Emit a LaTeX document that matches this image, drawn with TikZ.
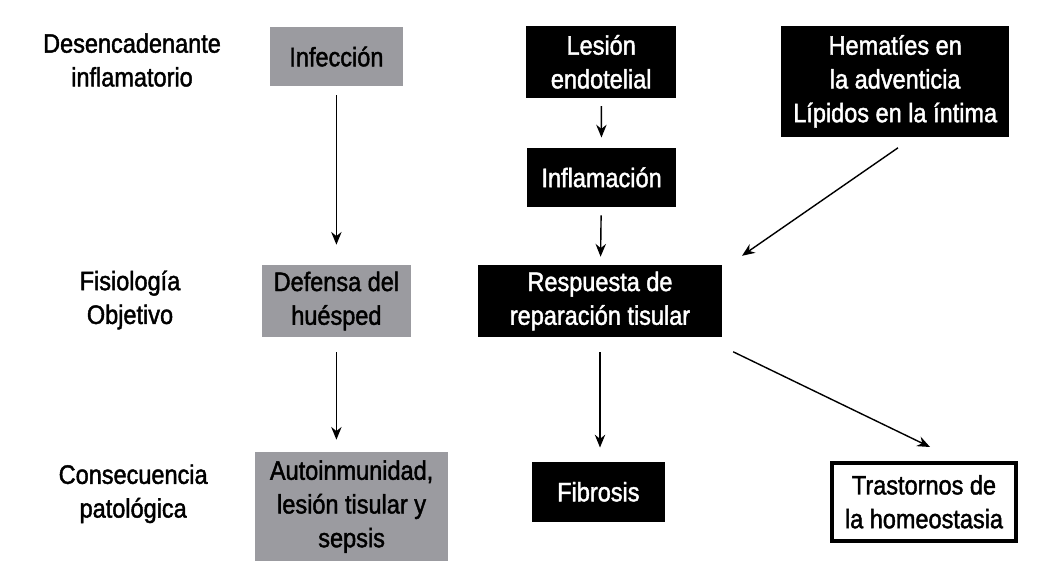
\documentclass[tikz,border=0pt]{standalone}
\usepackage{fontspec}
\setmainfont[FakeStretch=0.88, FakeBold=1.6]{Liberation Sans}
\usetikzlibrary{arrows.meta}
\definecolor{boxgray}{RGB}{155,155,160}
\tikzset{
	graybox/.style={fill=boxgray, text=black, align=center, inner sep=0pt},
	blackbox/.style={fill=black, text=white, align=center, inner sep=0pt},
	whitebox/.style={draw=black, line width=2.6pt, fill=white, align=center, inner sep=0pt},
	rowlabel/.style={align=center, inner sep=0pt},
	arr/.style={line width=1pt, -{Stealth[length=0.32cm, width=0.26cm]}}
}
\begin{document}
\begin{tikzpicture}[font=\fontsize{19}{24}\selectfont]
			
			\useasboundingbox (0,0) rectangle (26.35,14.375);
			
			\coordinate (D) at (3.30, 12.875);
			\coordinate (F) at (3.25, 6.875);
			\coordinate (C) at (3.33, 2.03);
			
			%%Row labels on the left.
			\node[rowlabel] (desenc) at (D) {Desencadenante\\inflamatorio};
			\node[rowlabel] (fisiol) at (F) {Fisiología\\Objetivo};
			\node[rowlabel] (consec) at (C) {Consecuencia\\patológica};
			
			%%Boxes.
			\node[graybox, minimum width=3.33cm, minimum height=1.48cm] (infeccion) at (8.41, 12.96) {Infección};
			\node[graybox, minimum width=3.73cm, minimum height=1.8cm] (defensa) at (8.41, 6.85) {Defensa del\\huésped};
			\node[graybox, minimum width=4.83cm, minimum height=2.73cm] (autoinm) at (8.79, 1.71) {Autoinmunidad,\\lesión tisular y\\sepsis};
			
			\node[blackbox, minimum width=3.75cm, minimum height=1.8cm] (lesion) at (15.03, 12.83) {Lesión\\endotelial};
			\node[blackbox, minimum width=3.73cm, minimum height=1.48cm] (inflam) at (15.04, 9.94) {Inflamación};
			\node[blackbox, minimum width=6.1cm, minimum height=1.8cm] (respuesta) at (15.0, 6.85) {Respuesta de\\reparación tisular};
			\node[blackbox, minimum width=3.33cm, minimum height=1.5cm] (fibrosis) at (14.96, 2.08) {Fibrosis};
			
			\node[blackbox, minimum width=5.7cm, minimum height=2.78cm] (hematies) at (22.38, 12.34) {Hematíes en\\la adventicia\\Lípidos en la íntima};
			\node[whitebox, minimum width=4.6cm, minimum height=1.95cm] (trastornos) at (23.1, 1.83) {Trastornos de\\la homeostasia};
			
			%%Free ends of the slanted arrows.
			\coordinate (HA) at (22.45, 10.68);
			\coordinate (HB) at (18.55, 7.98);
			\coordinate (TA) at (18.33, 5.58);
			\coordinate (TB) at (23.25, 3.20);
			
			%%Arrows.
			\draw[arr, shorten <=0.22cm, shorten >=0.5cm] (infeccion) -- (defensa);
			\draw[arr, shorten <=0.37cm, shorten >=0.3cm] (defensa.south) -- (defensa.south |- autoinm.north);
			\draw[arr, shorten <=0.2cm, shorten >=0.25cm] (lesion) -- (inflam);
			\draw[arr, shorten <=0.2cm, shorten >=0.2cm] (inflam) -- (respuesta);
			\draw[arr, shorten <=0.37cm, shorten >=0.35cm] (respuesta.south) -- (respuesta.south |- fibrosis.north);
			\draw[arr] (HA) -- (HB);
			\draw[arr] (TA) -- (TB);
			
\end{tikzpicture}
\end{document}
